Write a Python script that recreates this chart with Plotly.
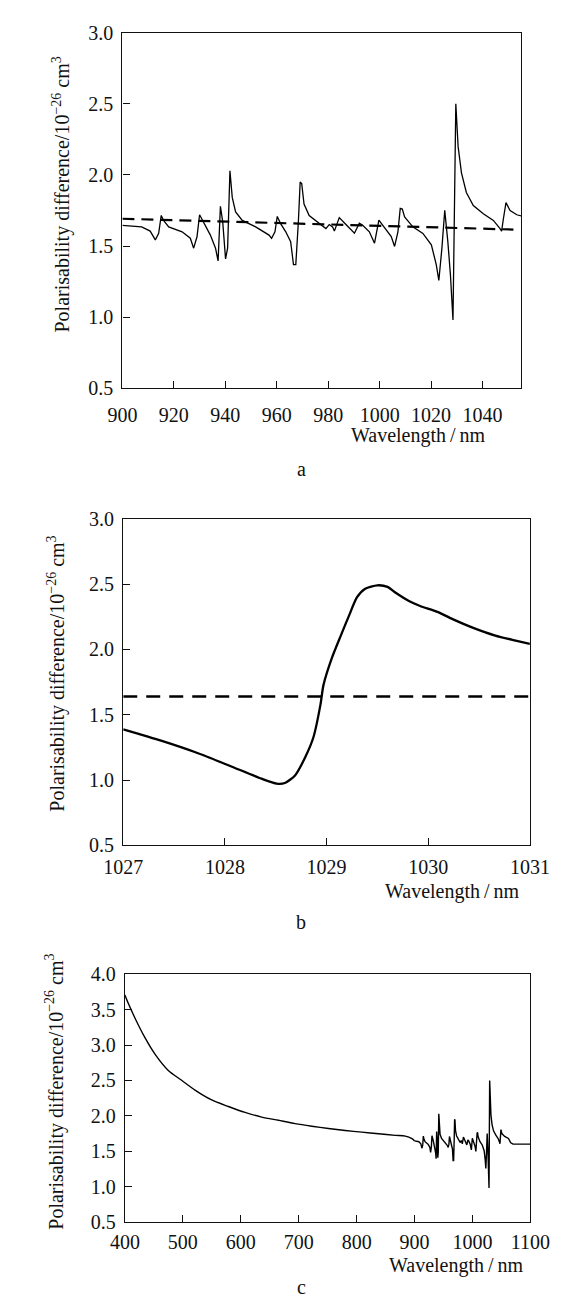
import plotly.graph_objects as go

# panel a: polarisability difference, 900-1055 nm
wl_a = [900, 907.5, 910.8, 912.8, 914.1, 915.1, 916, 918, 923.2, 926.4, 927.7, 929, 930,
        932.3, 934.2, 936.2, 937.2, 938.1, 939.0, 940.1, 940.9, 941.8, 942.7, 944.0, 946.6,
        951.8, 957.0, 958.0, 959.3, 960.2, 961.5, 963.5, 965.4, 966.5, 967.4, 968.4, 969.1,
        969.7, 970.6, 972.6, 976.5, 979.1, 980.4, 981.7, 982.4, 984.3, 986.9, 989.5, 990.2,
        992.1, 993.4, 996.0, 998.0, 999.7, 1001.2, 1004.5, 1005.8, 1007.1, 1008.0, 1008.8,
        1009.7, 1012.9, 1016.8, 1020.1, 1022.0, 1023.0, 1024.2, 1025.3, 1026.5, 1027.5,
        1028.5, 1029.6, 1030.5, 1031.8, 1033.7, 1036.4, 1040.3, 1044.2, 1046.8, 1047.4,
        1048.1, 1049.1, 1050.7, 1053.3, 1055.5]
pol_a = [1.646, 1.635, 1.605, 1.543, 1.59, 1.715, 1.68, 1.635, 1.60, 1.555, 1.485, 1.565, 1.72,
         1.646, 1.577, 1.485, 1.395, 1.78, 1.67, 1.41, 1.485, 2.03, 1.842, 1.74, 1.68,
         1.635, 1.577, 1.554, 1.60, 1.708, 1.658, 1.60, 1.531, 1.37, 1.37, 1.67, 1.95,
         1.94, 1.796, 1.715, 1.658, 1.623, 1.651, 1.635, 1.605, 1.70, 1.651, 1.605, 1.59,
         1.66, 1.646, 1.60, 1.52, 1.683, 1.646, 1.566, 1.497, 1.60, 1.765, 1.76,
         1.704, 1.635, 1.589, 1.508, 1.37, 1.258, 1.485, 1.752, 1.531, 1.30,
         0.98, 2.50, 2.199, 2.015, 1.877, 1.785, 1.727, 1.68, 1.623, 1.605,
         1.692, 1.805, 1.75, 1.72, 1.71]
# dashed reference line in a
dash_a_x = [900, 1052]
dash_a_y = [1.692, 1.616]

# panel b: zoom on the 1029 nm feature
wl_b = [1027.0, 1027.38, 1027.71, 1028.04, 1028.36, 1028.51, 1028.59, 1028.69, 1028.79,
        1028.87, 1028.94, 1028.97, 1029.05, 1029.14, 1029.22, 1029.30, 1029.38, 1029.50,
        1029.60, 1029.68, 1029.81, 1029.92, 1030.09, 1030.24, 1030.43, 1030.66, 1030.86, 1031.0]
pol_b = [1.389, 1.30, 1.213, 1.112, 1.011, 0.973, 0.978, 1.036, 1.175,
         1.326, 1.578, 1.729, 1.93, 2.106, 2.257, 2.40, 2.465, 2.491,
         2.479, 2.434, 2.371, 2.333, 2.288, 2.232, 2.169, 2.106, 2.068, 2.043]
dash_b_x = [1027, 1031]
dash_b_y = [1.64, 1.64]

# panel c: 400-900 smooth part, then the 900-1055 detail from a, then the tail
wl_c_smooth = [400, 405.8, 417.3, 434.6, 451.9, 474.9, 497.9, 521, 549.8, 578.6, 607.4,
               636.2, 665, 693.8, 722.6, 751.4, 780.2, 809, 837.9, 866.7, 884, 895.5, 900]
pol_c_smooth = [3.708, 3.59, 3.383, 3.105, 2.873, 2.642, 2.503, 2.363, 2.224, 2.132, 2.048,
                1.983, 1.937, 1.891, 1.854, 1.821, 1.793, 1.77, 1.747, 1.724, 1.714, 1.677, 1.646]
wl_c_tail = [1062, 1066, 1070, 1100]
pol_c_tail = [1.68, 1.62, 1.60, 1.60]

wl_c_detail = wl_a + wl_c_tail
pol_c_detail = pol_a + pol_c_tail

W, H = 564, 1316
FONT = 'Liberation Serif, Times New Roman, DejaVu Serif, serif'
INK = '#111'


def px_x(v):
    return v / W


def px_y(v):
    return 1 - v / H


# plot boxes in pixels (left, right, top, bottom)
boxes = {
    'a': (101.6, 530.8, 14, 375.5),
    'b': (102.5, 540.2, 508.3, 840.5),
    'c': (104.3, 540.8, 971.5, 1223.5),
}

fig = go.Figure()
fig.add_trace(go.Scatter(x=wl_a, y=pol_a, mode='lines', line=dict(color='black', width=1.3),
                         xaxis='x', yaxis='y', showlegend=False))
fig.add_trace(go.Scatter(x=dash_a_x, y=dash_a_y, mode='lines',
                         line=dict(color='black', width=2.2, dash='12px,7px'),
                         xaxis='x', yaxis='y', showlegend=False))
fig.add_trace(go.Scatter(x=wl_b, y=pol_b, mode='lines',
                         line=dict(color='black', width=2.3, shape='spline', smoothing=0.7),
                         xaxis='x2', yaxis='y2', showlegend=False))
fig.add_trace(go.Scatter(x=dash_b_x, y=dash_b_y, mode='lines',
                         line=dict(color='black', width=2.3, dash='14px,9px'),
                         xaxis='x2', yaxis='y2', showlegend=False))
fig.add_trace(go.Scatter(x=wl_c_smooth, y=pol_c_smooth, mode='lines',
                         line=dict(color='black', width=1.4, shape='spline', smoothing=0.8),
                         xaxis='x3', yaxis='y3', showlegend=False))
fig.add_trace(go.Scatter(x=wl_c_detail, y=pol_c_detail, mode='lines',
                         line=dict(color='black', width=1.4),
                         xaxis='x3', yaxis='y3', showlegend=False))

axis_common = dict(showline=True, mirror=True, linecolor=INK, linewidth=1.3,
                   ticks='inside', ticklen=7, tickwidth=1.3, tickcolor=INK,
                   showgrid=False, zeroline=False,
                   tickfont=dict(family=FONT, size=20, color=INK))

x_ranges = {'a': [900, 1055], 'b': [1027, 1031], 'c': [400, 1100]}
x_ticks = {'a': [900, 920, 940, 960, 980, 1000, 1020, 1040],
           'b': [1027, 1028, 1029, 1030, 1031],
           'c': [400, 500, 600, 700, 800, 900, 1000, 1100]}
y_ranges = {'a': [0.5, 3.0], 'b': [0.5, 3.0], 'c': [0.5, 4.0]}
y_ticks = {'a': [0.5, 1.0, 1.5, 2.0, 2.5, 3.0],
           'b': [0.5, 1.0, 1.5, 2.0, 2.5, 3.0],
           'c': [0.5, 1.0, 1.5, 2.0, 2.5, 3.0, 3.5, 4.0]}
x_standoff = {'a': 9, 'b': 3, 'c': 2}

layout = dict(width=W, height=H, margin=dict(l=0, r=0, t=0, b=0),
              plot_bgcolor='white', paper_bgcolor='white',
              font=dict(family=FONT, size=20, color=INK))
annotations = []
for i, key in enumerate(['a', 'b', 'c']):
    l, r, t, b = boxes[key]
    sfx = '' if i == 0 else str(i + 1)
    layout['xaxis' + sfx] = dict(axis_common, domain=[px_x(l), px_x(r)], range=x_ranges[key],
                                 tickvals=x_ticks[key], anchor='y' + sfx,
                                 ticklabelstandoff=x_standoff[key])
    layout['yaxis' + sfx] = dict(axis_common, domain=[px_y(b), px_y(t)], range=y_ranges[key],
                                 tickvals=y_ticks[key], tickformat='.1f', anchor='x' + sfx,
                                 ticklabelstandoff=4)

# y titles (rotated), x titles and panel letters
ytitle = 'Polarisability difference/10<sup>\u221226</sup> cm<sup>3</sup>'
ytitle_pos = {'a': (35, 179), 'b': (31, 666), 'c': (29, 1091)}
xtitle_pos = {'a': (494.6, 424), 'b': (531.7, 887), 'c': (536.5, 1268)}
letter_pos = {'a': (294, 458), 'b': (294, 918), 'c': (294, 1290)}
for key in ['a', 'b', 'c']:
    annotations.append(dict(text=ytitle, textangle=-90, showarrow=False,
                            xref='paper', yref='paper',
                            x=px_x(ytitle_pos[key][0]), y=px_y(ytitle_pos[key][1]),
                            xanchor='center', yanchor='middle',
                            font=dict(family=FONT, size=20, color=INK)))
    annotations.append(dict(text='Wavelength\u2009/\u2009nm', showarrow=False,
                            xref='paper', yref='paper',
                            x=px_x(xtitle_pos[key][0]), y=px_y(xtitle_pos[key][1]),
                            xanchor='right', yanchor='middle',
                            font=dict(family=FONT, size=20, color=INK)))
    annotations.append(dict(text=key, showarrow=False, xref='paper', yref='paper',
                            x=px_x(letter_pos[key][0]), y=px_y(letter_pos[key][1]),
                            xanchor='center', yanchor='middle',
                            font=dict(family=FONT, size=20, color=INK)))
layout['annotations'] = annotations

fig.update_layout(**layout)
fig.write_html('out.html')
